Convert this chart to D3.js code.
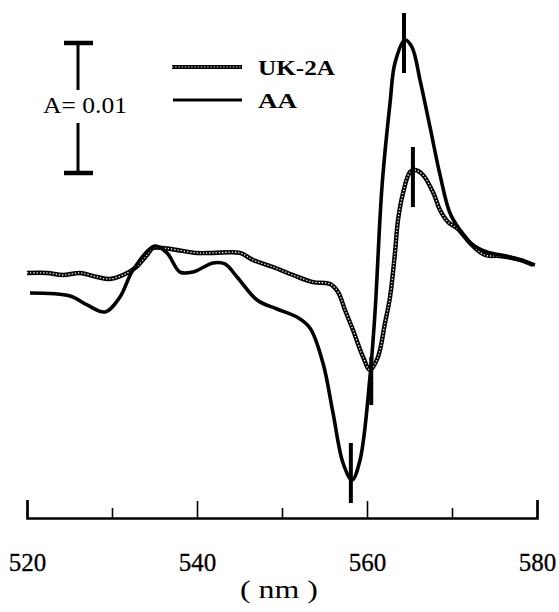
<!DOCTYPE html>
<html>
<head>
<meta charset="utf-8">
<script src="https://cdn.jsdelivr.net/npm/d3@7/dist/d3.min.js"></script>
<style>
  html, body { margin: 0; padding: 0; background: #fff; }
  svg { display: block; }
</style>
</head>
<body>
<div id="chart"></div>
<script>
// ---- Data (absorbance difference in units of 0.001) ----
const aaWavelength = [520.35, 525.06, 527.06, 529.18, 530.94, 532.47, 535.06, 536.47, 538.0, 539.53,
  541.88, 543.29, 544.71, 547.06, 549.41, 551.76, 553.29, 554.82, 556.0, 557.18,
  558.24, 559.18, 560.35, 560.94, 561.76, 562.71, 563.29, 564.47, 565.29, 566.24,
  567.41, 568.59, 569.76, 570.94, 572.47, 574.12, 576.82, 579.76];
const aaValue = [0.54, 0.31, -0.38, -0.92, 0.23, 2.31, 4.15, 3.62, 2.15, 2.15,
  2.85, 2.77, 1.77, 0.0, -0.69, -1.31, -2.15, -4.85, -8.69, -12.54,
  -13.85, -12.31, -5.92, -1.0, 8.69, 15.15, 18.23, 20.0, 19.46, 16.92,
  13.31, 9.62, 6.69, 5.38, 4.23, 3.69, 3.31, 2.69];

const ukWavelength = [520.0, 522.35, 524.24, 526.24, 528.24, 529.76, 531.29, 532.71, 534.12, 534.82,
  536.0, 537.65, 540.0, 541.88, 545.06, 546.59, 548.94, 551.29, 553.65, 555.65,
  556.59, 557.41, 558.35, 559.53, 560.35, 561.29, 562.12, 562.71, 563.29, 563.65,
  564.24, 565.06, 565.65, 566.59, 567.76, 568.59, 569.53, 570.71, 572.12, 573.88,
  575.65, 578.0, 579.53];
const ukValue = [2.08, 2.08, 1.92, 2.08, 1.77, 1.62, 1.92, 2.46, 3.46, 4.0,
  4.0, 3.85, 3.62, 3.62, 3.62, 3.08, 2.54, 1.92, 1.38, 1.23,
  0.62, -0.77, -2.31, -4.38, -5.38, -4.38, -1.77, 0.23, 3.62, 6.15,
  8.23, 9.85, 10.0, 9.62, 8.31, 6.92, 6.0, 5.46, 4.38, 3.46,
  3.38, 3.08, 2.69];

// peak / trough markers: wavelength, top value, bottom value
const markerWavelength = [564.35, 565.4, 558.1, 560.5];
const markerTop = [22.08, 11.77, -11.0, -4.38];
const markerBottom = [17.46, 7.15, -15.62, -8.08];

const xTicks = [520, 530, 540, 550, 560, 570, 580];
const xTickLabels = ["520", "", "540", "", "560", "", "580"];
const seriesNames = ["UK-2A", "AA"];
const scaleBarLabel = "A= 0.01";
const scaleBarSize = 10;   // 0.01 absorbance = 10 units
const scaleBarBase = 9.77; // value at the bottom of the scale bar
const xAxisTitle = "( nm )";

// ---- Chart ----
const W = 559, H = 612;
const svg = d3.select("#chart").append("svg").attr("width", W).attr("height", H);

const x = d3.scaleLinear().domain([520, 580]).range([27, 537]);
const y = d3.scaleLinear().domain([-17, 23]).range([521, 1]);

const serif = "'Liberation Serif', 'Times New Roman', serif";

// Axis
const axisY = 518;
const axis = d3.axisBottom(x)
  .tickValues(xTicks)
  .tickFormat((d, i) => xTickLabels[i])
  .tickSize(-18)
  .tickSizeOuter(-18)
  .tickPadding(35);
const gAxis = svg.append("g").attr("transform", `translate(0,${axisY})`).call(axis);
gAxis.select(".domain").attr("stroke", "#000").attr("stroke-width", 2.6).attr("fill", "none");
gAxis.selectAll(".tick line")
  .attr("stroke", "#000").attr("stroke-width", 1.6)
  .attr("y2", (d, i) => xTickLabels[i] ? -17 : -10);
gAxis.selectAll(".tick text")
  .attr("font-family", serif).attr("font-size", 25).attr("fill", "#000")
  .attr("stroke", "#000").attr("stroke-width", 0.3);

svg.append("text")
  .attr("x", 279)
  .attr("y", 598)
  .attr("text-anchor", "middle")
  .attr("font-family", serif).attr("font-size", 25)
  .attr("textLength", 78).attr("lengthAdjust", "spacingAndGlyphs")
  .text(xAxisTitle);

// Lines
const line = d3.line().x(d => x(d[0])).y(d => y(d[1])).curve(d3.curveCatmullRom.alpha(0.5));
const aaData = aaWavelength.map((w, i) => [w, aaValue[i]]);
const ukData = ukWavelength.map((w, i) => [w, ukValue[i]]);

// UK-2A: chain-like dotted line
svg.append("path").datum(ukData).attr("d", line)
  .attr("fill", "none").attr("stroke", "#000").attr("stroke-width", 4.4);
svg.append("path").datum(ukData).attr("d", line)
  .attr("fill", "none").attr("stroke", "#fff").attr("stroke-width", 1.3)
  .attr("stroke-dasharray", "1.3 1.9");

// AA: solid
svg.append("path").datum(aaData).attr("d", line)
  .attr("fill", "none").attr("stroke", "#000").attr("stroke-width", 3.6)
  .attr("stroke-linejoin", "round");

// Markers
svg.selectAll("line.marker").data(markerWavelength).enter().append("line")
  .attr("class", "marker")
  .attr("x1", d => x(d)).attr("x2", d => x(d))
  .attr("y1", (d, i) => y(markerTop[i])).attr("y2", (d, i) => y(markerBottom[i]))
  .attr("stroke", "#000").attr("stroke-width", 4);

// Scale bar
const sbX = 78;
const sbTop = y(scaleBarBase + scaleBarSize), sbBot = y(scaleBarBase);
const gSb = svg.append("g");
gSb.append("line").attr("x1", sbX).attr("x2", sbX).attr("y1", sbTop).attr("y2", 90)
  .attr("stroke", "#000").attr("stroke-width", 3);
gSb.append("line").attr("x1", sbX).attr("x2", sbX).attr("y1", 123).attr("y2", sbBot)
  .attr("stroke", "#000").attr("stroke-width", 3);
gSb.append("line").attr("x1", 64).attr("x2", 93).attr("y1", sbTop).attr("y2", sbTop)
  .attr("stroke", "#000").attr("stroke-width", 4.5);
gSb.append("line").attr("x1", 64).attr("x2", 93).attr("y1", sbBot).attr("y2", sbBot)
  .attr("stroke", "#000").attr("stroke-width", 4.5);
gSb.append("text").attr("x", 43).attr("y", 113)
  .attr("font-family", serif).attr("font-size", 23)
  .attr("textLength", 84).attr("lengthAdjust", "spacingAndGlyphs")
  .text(scaleBarLabel);

// Legend
const legY = [67, 100];
const legLen = [77, 39];
const leg = svg.append("g");
// UK-2A sample
leg.append("line").attr("x1", 172).attr("x2", 242).attr("y1", legY[0]).attr("y2", legY[0])
  .attr("stroke", "#000").attr("stroke-width", 3.8);
leg.append("line").attr("x1", 172).attr("x2", 242).attr("y1", legY[0]).attr("y2", legY[0])
  .attr("stroke", "#fff").attr("stroke-width", 1.2).attr("stroke-dasharray", "1.3 1.9");
leg.append("line").attr("x1", 173).attr("x2", 242).attr("y1", legY[1]).attr("y2", legY[1])
  .attr("stroke", "#000").attr("stroke-width", 3.2);
leg.selectAll("text").data(seriesNames).enter().append("text")
  .attr("x", 258).attr("y", (d, i) => legY[i] + 8)
  .attr("font-family", serif).attr("font-weight", "bold").attr("font-size", 22)
  .attr("textLength", (d, i) => legLen[i]).attr("lengthAdjust", "spacingAndGlyphs")
  .text(d => d);
</script>
</body>
</html>
